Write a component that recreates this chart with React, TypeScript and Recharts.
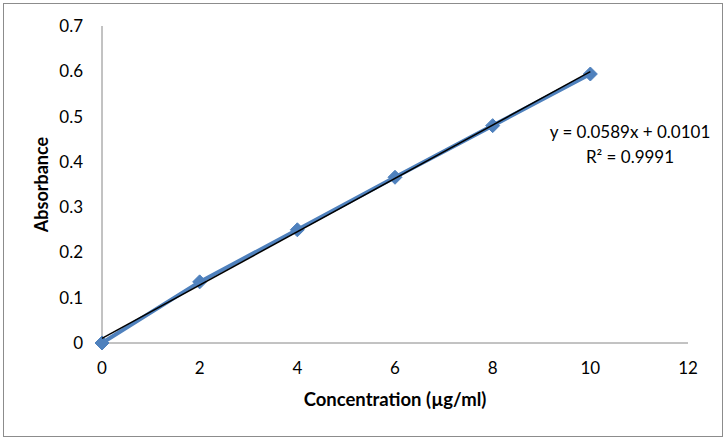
import React from "react";
import { ScatterChart, Scatter, XAxis, YAxis } from "recharts";

// Calibration standards
const concentrations = [0, 2, 4, 6, 8, 10];
const absorbances = [0, 0.135, 0.25, 0.366, 0.48, 0.594];

// Linear fit reported on the chart
const slope = 0.0589;
const intercept = 0.0101;
const rSquared = "0.9991";
const fitRange = [0, 10];

const xTicks = [0, 2, 4, 6, 8, 10, 12];
const yTicks = [0, 0.1, 0.2, 0.3, 0.4, 0.5, 0.6, 0.7];

const points = concentrations.map((x, i) => ({ x, y: absorbances[i] }));
const fitLine = fitRange.map((x) => ({ x, y: slope * x + intercept }));

const FONT = "Lato, 'Open Sans', sans-serif";
const BLUE = "#4F81BD";
const AXIS = "#868686";

const Diamond = (props: any) => {
  const { cx, cy } = props;
  const r = 7;
  return (
    <polygon
      points={`${cx},${cy - r} ${cx + r},${cy} ${cx},${cy + r} ${cx - r},${cy}`}
      fill={BLUE}
      stroke={BLUE}
    />
  );
};

const NoDot = () => null;

export default function App() {
  return (
    <div
      style={{
        position: "absolute",
        left: 0,
        top: 0,
        width: 726,
        height: 448,
        background: "#fff",
        fontFamily: FONT,
      }}
    >
      <div
        style={{
          position: "absolute",
          left: 3,
          top: 3,
          width: 718,
          height: 432,
          border: "1px solid #8c8c8c",
        }}
      />
      <ScatterChart
        width={726}
        height={448}
        margin={{ top: 26, right: 38, left: 0, bottom: 0 }}
        style={{ position: "absolute", left: 0, top: 0 }}
      >
        <XAxis
          type="number"
          dataKey="x"
          domain={[0, 12]}
          ticks={xTicks}
          height={105}
          stroke={AXIS}
          tickLine={false}
          tick={{ fill: "#000", fontSize: 17, fontFamily: FONT, dy: 11 }}
          label={{
            value: "Concentration (µg/ml)",
            position: "insideTop",
            offset: 50,
            fill: "#000",
            fontSize: 18.5,
            fontWeight: "bold",
            fontFamily: FONT,
          }}
        />
        <YAxis
          type="number"
          dataKey="y"
          domain={[0, 0.7]}
          ticks={yTicks}
          width={102}
          stroke={AXIS}
          tickLine={false}
          tick={{ fill: "#000", fontSize: 17, fontFamily: FONT, dx: -11 }}
          label={{
            value: "Absorbance",
            angle: -90,
            position: "insideLeft",
            offset: 42,
            fill: "#000",
            fontSize: 18,
            fontWeight: "bold",
            fontFamily: FONT,
            style: { textAnchor: "middle" },
          }}
        />
        <Scatter
          data={points}
          fill={BLUE}
          line={{ stroke: BLUE, strokeWidth: 4 }}
          shape={<Diamond />}
          isAnimationActive={false}
        />
        <Scatter
          data={fitLine}
          line={{ stroke: "#000", strokeWidth: 1.5 }}
          shape={<NoDot />}
          isAnimationActive={false}
        />
      </ScatterChart>
      <div
        style={{
          position: "absolute",
          left: 530,
          top: 119,
          width: 200,
          textAlign: "center",
          fontSize: 17,
          lineHeight: "25px",
          color: "#000",
        }}
      >
        <div>y = {slope}x + {intercept}</div>
        <div>
          R² = {rSquared}
        </div>
      </div>
    </div>
  );
}
